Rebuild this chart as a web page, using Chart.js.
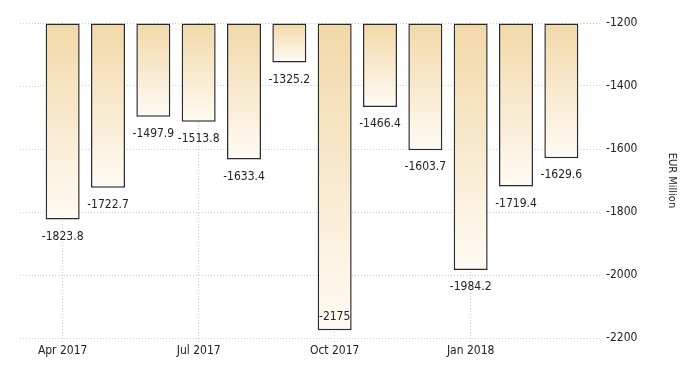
<!DOCTYPE html>
<html>
<head>
<meta charset="utf-8">
<script src="https://cdn.jsdelivr.net/npm/chart.js@4"></script>
<style>
  html, body { margin: 0; padding: 0; background: #fff; }
  #wrap { width: 700px; height: 375px; }
</style>
</head>
<body>
<div id="wrap"><canvas id="barChart" width="700" height="375"></canvas></div>
<script>
var months = ['Apr 2017', 'May 2017', 'Jun 2017', 'Jul 2017', 'Aug 2017', 'Sep 2017',
              'Oct 2017', 'Nov 2017', 'Dec 2017', 'Jan 2018', 'Feb 2018', 'Mar 2018'];
var balance = [-1823.8, -1722.7, -1497.9, -1513.8, -1633.4, -1325.2,
               -2175, -1466.4, -1603.7, -1984.2, -1719.4, -1629.6];
var yTicks = [-1200, -1400, -1600, -1800, -2000, -2200];

var font = "'DejaVu Sans Condensed', 'Liberation Sans Narrow', 'Liberation Sans', sans-serif";
var gridColor = '#cfcfcf';

// value labels under each bar (inside the bar if there is no room below)
var valueLabels = {
    id: 'valueLabels',
    afterDatasetsDraw: function (chart) {
        var c = chart.ctx;
        var meta = chart.getDatasetMeta(0);
        c.save();
        c.font = '12px ' + font;
        c.fillStyle = '#222';
        c.textAlign = 'center';
        c.textBaseline = 'middle';
        meta.data.forEach(function (bar, i) {
            var y = bar.y + 17;
            if (y + 8 > chart.chartArea.bottom) y = bar.y - 13;
            c.fillText(String(balance[i]), bar.x, y);
        });
        c.restore();
    }
};

// horizontal grid lines run a little further left than the bars
var gridExtend = {
    id: 'gridExtend',
    beforeDatasetsDraw: function (chart) {
        var c = chart.ctx;
        var y = chart.scales.y;
        c.save();
        c.strokeStyle = gridColor;
        c.lineWidth = 1;
        c.setLineDash([1, 2]);
        yTicks.forEach(function (v) {
            var p = Math.round(y.getPixelForValue(v)) + 0.5;
            c.beginPath();
            c.moveTo(20, p);
            c.lineTo(chart.chartArea.left, p);
            c.stroke();
        });
        c.restore();
    }
};

var ctx = document.getElementById('barChart').getContext('2d');

var chart = new Chart(ctx, {
    type: 'bar',
    data: {
        labels: months,
        datasets: [{
            data: balance,
            base: -1200,
            backgroundColor: function (context) {
                var ch = context.chart;
                var y = ch.scales && ch.scales.y;
                if (!y || !ch.chartArea) return '#f5e2bf';
                var top = y.getPixelForValue(-1200);
                var bot = y.getPixelForValue(balance[context.dataIndex]);
                var g = ch.ctx.createLinearGradient(0, top, 0, bot);
                g.addColorStop(0, '#f2d8a8');
                g.addColorStop(1, '#fffbf4');
                return g;
            },
            borderColor: '#2b2b2b',
            borderWidth: 1.5,
            borderSkipped: false,
            categoryPercentage: 1,
            barPercentage: 0.75
        }]
    },
    options: {
        responsive: false,
        animation: false,
        layout: { padding: { left: 40, top: 23, right: 0, bottom: 0 } },
        plugins: {
            legend: { display: false },
            tooltip: { enabled: false }
        },
        scales: {
            x: {
                grid: {
                    offset: false,
                    color: function (c) { return c.index % 3 === 0 ? gridColor : 'rgba(0,0,0,0)'; },
                    tickLength: 4,
                    tickBorderDash: [1, 2]
                },
                border: { display: false, dash: [1, 2] },
                ticks: {
                    autoSkip: false,
                    maxRotation: 0,
                    padding: 2,
                    color: '#222',
                    font: { family: font, size: 12 },
                    callback: function (v, i) { return i % 3 === 0 ? months[i] : ''; }
                },
                afterFit: function (s) { s.height = 37; }
            },
            y: {
                position: 'right',
                min: -2200,
                max: -1200,
                afterBuildTicks: function (s) {
                    s.ticks = yTicks.map(function (v) { return { value: v }; });
                },
                grid: {
                    color: gridColor,
                    tickLength: 18,
                    tickBorderDash: [1, 2]
                },
                border: { display: false, dash: [1, 2] },
                ticks: {
                    padding: 4,
                    color: '#222',
                    font: { family: font, size: 12 },
                    callback: function (v) { return String(v); }
                },
                title: {
                    display: true,
                    text: 'EUR Million',
                    color: '#222',
                    font: { family: font, size: 11 },
                    padding: { top: 22, bottom: 0 }
                },
                afterFit: function (s) { s.width = 116; }
            }
        }
    },
    plugins: [gridExtend, valueLabels]
});
</script>
</body>
</html>
